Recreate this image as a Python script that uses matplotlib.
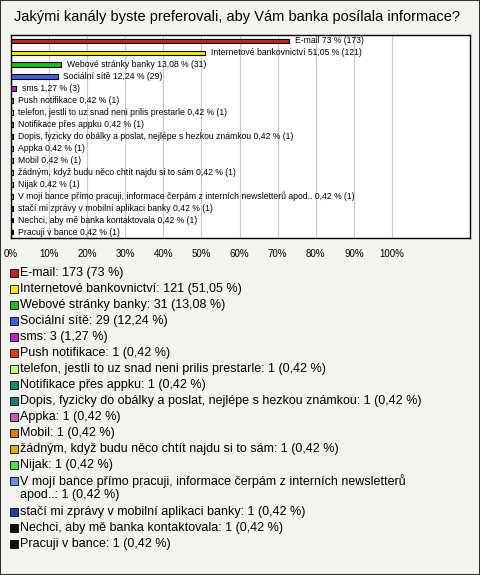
import matplotlib
matplotlib.use("Agg")
import matplotlib.pyplot as plt

categories = ["E-mail", "Internetové bankovnictví", "Webové stránky banky", "Sociální sítě", "sms",
              "Push notifikace", "telefon, jestli to uz snad neni prilis prestarle", "Notifikace přes appku",
              "Dopis, fyzicky do obálky a poslat, nejlépe s hezkou známkou", "Appka", "Mobil",
              "žádným, když budu něco chtít najdu si to sám", "Nijak",
              "V mojí bance přímo pracuji, informace čerpám z interních newsletterů apod..",
              "stačí mi zprávy v mobilní aplikaci banky", "Nechci, aby mě banka kontaktovala", "Pracuji v bance"]
counts = [173, 121, 31, 29, 3, 1, 1, 1, 1, 1, 1, 1, 1, 1, 1, 1, 1]
percents = [73, 51.05, 13.08, 12.24, 1.27] + [0.42] * 12
pct_text = ["73", "51,05", "13,08", "12,24", "1,27"] + ["0,42"] * 12
colors = ["#c0281c", "#f8e81c", "#20b820", "#4060e0", "#c020c0", "#e04010", "#c8f880", "#109060",
          "#207888", "#c060b0", "#e07810", "#e0b010", "#50e040", "#6890e0", "#2040a8", "#101010", "#101010"]
xticks = [0, 10, 20, 30, 40, 50, 60, 70, 80, 90, 100]

bg = "#f4f4ee"
fig = plt.figure(figsize=(4.8, 5.75), dpi=100, facecolor=bg)
W, H = 480, 575
fig.patches.append(plt.Rectangle((0, 0), 1, 1, transform=fig.transFigure, fill=False, ec="#333333", lw=1.5))
fig.text(14 / W, 1 - 17 / H, "Jakými kanály byste preferovali, aby Vám banka posílala informace?",
         fontsize=10.5, va="center", ha="left", family="Liberation Sans")

ax = fig.add_axes([11 / W, 1 - 238 / H, 459 / W, 203 / H])
ax.set_facecolor("white")
n = len(categories)
ys = list(range(n))
ax.barh(ys, percents, height=0.4, color=colors, edgecolor="black", linewidth=0.8, zorder=3)
for y, p, c, t, cnt in zip(ys, percents, categories, pct_text, counts):
    ax.text(p + 1.5, y, f"{c} {t} % ({cnt})", fontsize=6.2, va="center", ha="left",
            family="Liberation Sans", zorder=4)
ax.set_xlim(0, 120.5)
ax.set_ylim(n - 0.5, -0.5)
ax.set_xticks(xticks)
ax.set_xticklabels([f"{v}%" for v in xticks], fontsize=7, family="Liberation Sans")
ax.tick_params(axis="x", length=0, pad=8)
ax.set_yticks([])
ax.grid(axis="x", color="#c8c8c8", lw=0.8, zorder=0)
for s in ax.spines.values():
    s.set_linewidth(1.0)

y0 = 273
for i, (c, cnt, t, col) in enumerate(zip(categories, counts, pct_text, colors)):
    yy = y0 + i * 16 + (15 if i >= 14 else 0)
    fig.patches.append(plt.Rectangle((10 / W, 1 - (yy + 4) / H), 8 / W, 8 / H, transform=fig.transFigure,
                                     fc=col, ec="black", lw=0.6))
    if i == 13:
        fig.text(20 / W, 1 - (yy - 7) / H,
                 "V mojí bance přímo pracuji, informace čerpám z interních newsletterů\napod..: 1 (0,42 %)",
                 fontsize=9, va="top", ha="left", family="Liberation Sans", linespacing=1.1)
    else:
        fig.text(20 / W, 1 - yy / H, f"{c}: {cnt} ({t} %)", fontsize=9,
                 va="center", ha="left", family="Liberation Sans")

fig.savefig("out.png", dpi=100, facecolor=bg)
